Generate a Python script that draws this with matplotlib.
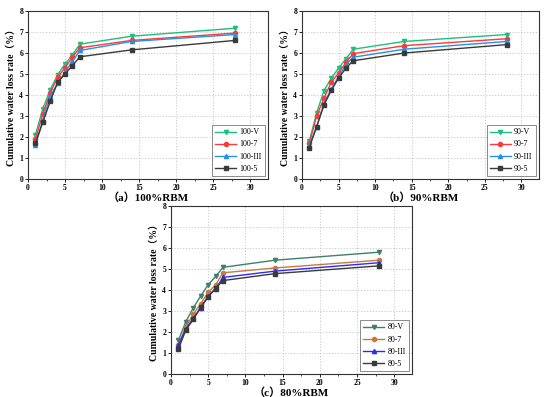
import matplotlib
matplotlib.use("Agg")
import matplotlib.pyplot as plt
from matplotlib.ticker import MultipleLocator

plt.rcParams['font.family'] = ['Liberation Serif', 'Noto Sans CJK SC', 'DejaVu Sans']

days = [1, 2, 3, 4, 5, 6, 7, 14, 28]

a_labels = ["100-V", "100-7", "100-III", "100-5"]
a_V = [2.1, 3.35, 4.25, 4.97, 5.48, 5.92, 6.42, 6.8, 7.18]
a_7 = [1.9, 3.1, 4.1, 4.85, 5.3, 5.8, 6.25, 6.6, 6.95]
a_III = [1.62, 2.8, 3.95, 4.55, 5.1, 5.6, 6.12, 6.55, 6.88]
a_5 = [1.7, 2.7, 3.7, 4.6, 5.0, 5.4, 5.82, 6.15, 6.6]

b_labels = ["90-V", "90-7", "90-III", "90-5"]
b_V = [1.8, 3.15, 4.2, 4.8, 5.28, 5.72, 6.18, 6.55, 6.88]
b_7 = [1.7, 3.0, 3.85, 4.6, 5.05, 5.55, 5.97, 6.35, 6.68]
b_III = [1.6, 2.5, 3.6, 4.28, 4.88, 5.45, 5.8, 6.18, 6.55]
b_5 = [1.5, 2.48, 3.52, 4.22, 4.8, 5.28, 5.63, 6.0, 6.4]

c_labels = ["80-V", "80-7", "80-III", "80-5"]
c_V = [1.6, 2.5, 3.15, 3.72, 4.25, 4.65, 5.08, 5.42, 5.8]
c_7 = [1.4, 2.25, 2.85, 3.35, 3.9, 4.25, 4.82, 5.05, 5.42]
c_III = [1.38, 2.15, 2.65, 3.15, 3.7, 4.05, 4.6, 4.9, 5.3]
c_5 = [1.2, 2.1, 2.6, 3.2, 3.68, 4.1, 4.45, 4.78, 5.15]

titles = ["（a）100%RBM", "（b）90%RBM", "（c）80%RBM"]
ylabel = "Cumulative water loss rate（%）"

markers = ['v', 'o', '^', 's']
colors_ab = ['#1fbf7f', '#ff3838', '#2a8fe0', '#3a3a3a']
colors_c = ['#3f7f6c', '#c87a3c', '#2a2aff', '#3a3a3a']

W, H = 550, 397
fig = plt.figure(figsize=(W / 100, H / 100), dpi=100)

def rect(x0, y0, x1, y1):
    return [x0 / W, 1 - y1 / H, (x1 - x0) / W, (y1 - y0) / H]

panels = [
    (rect(28, 11, 268, 179), [a_V, a_7, a_III, a_5], a_labels, colors_ab),
    (rect(302, 11, 539, 179), [b_V, b_7, b_III, b_5], b_labels, colors_ab),
    (rect(171, 206, 412, 374), [c_V, c_7, c_III, c_5], c_labels, colors_c),
]

for (r, series, labels, cols), title in zip(panels, titles):
    ax = fig.add_axes(r)
    for ys, lab, m, c in zip(series, labels, markers, cols):
        ax.plot(days, ys, marker=m, color=c, lw=1.0, ms=3.0, label=lab)
    ax.set_xlim(0, 32.4)
    ax.set_ylim(0, 8)
    ax.xaxis.set_major_locator(MultipleLocator(5))
    ax.xaxis.set_minor_locator(MultipleLocator(2.5))
    ax.yaxis.set_major_locator(MultipleLocator(1))
    ax.grid(True, which='major', ls=(0, (1.5, 2)), color='#c4c4c4', lw=0.6)
    ax.tick_params(labelsize=5.5, length=2, width=0.6, pad=1.5, direction='out')
    ax.tick_params(which='minor', length=1.2, width=0.5)
    for t in ax.get_xticklabels() + ax.get_yticklabels():
        t.set_fontweight('bold')
    for s in ax.spines.values():
        s.set_linewidth(0.8)
        s.set_color('#333333')
    ax.set_xlabel(title, fontsize=8, fontweight='bold', labelpad=0)
    ax.set_ylabel(ylabel, fontsize=7, fontweight='bold', labelpad=2)
    leg = ax.legend(loc='lower right', fontsize=5.8, frameon=True, fancybox=False,
                    edgecolor='#555555', handlelength=2.6, borderpad=0.4,
                    labelspacing=0.5, handletextpad=0.4, borderaxespad=0.4)
    leg.get_frame().set_linewidth(0.6)

fig.savefig("out.png", dpi=100)
